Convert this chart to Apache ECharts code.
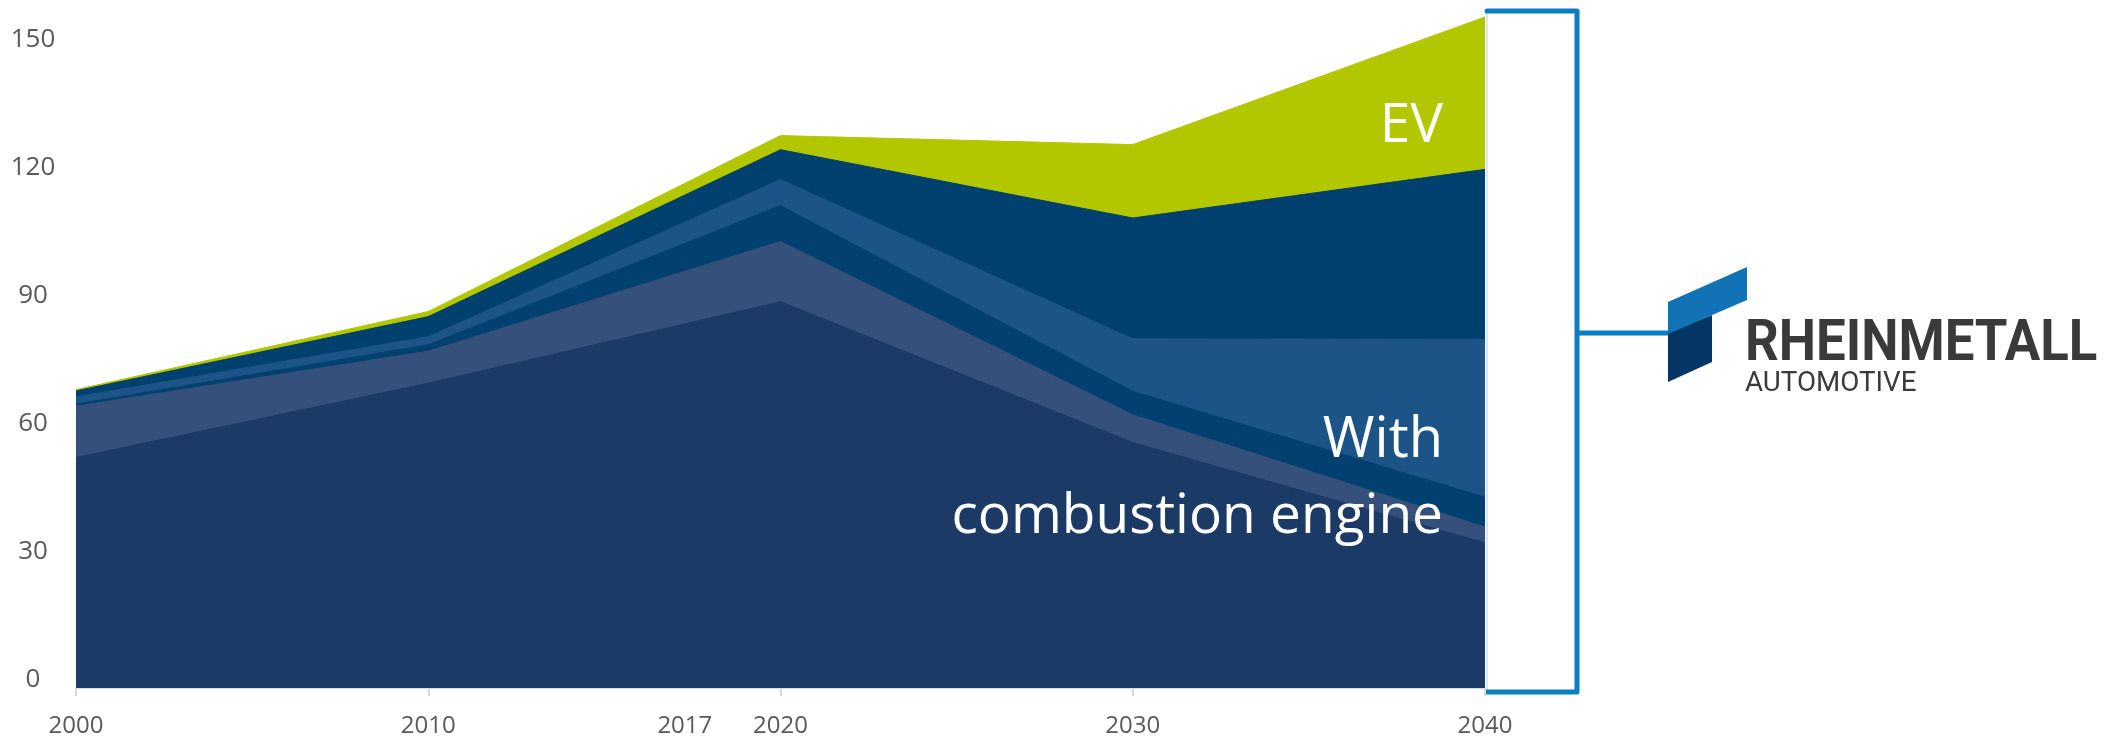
<!DOCTYPE html>
<html>
<head>
<meta charset="utf-8">
<title>Vehicle production by drivetrain</title>
<style>
    html, body { margin: 0; padding: 0; background: #fff; }
    #chart { width: 2107px; height: 736px; }
</style>
</head>
<body>
<div id="chart"></div>
<script src="https://cdn.jsdelivr.net/npm/echarts@6/dist/echarts.min.js"></script>
<script>
    // x positions of the data points, and the labels shown under the axis
    const years = [2000, 2010, 2020, 2030, 2040];
    const yearLabels = [2000, 2010, 2017, 2020, 2030, 2040];
    const yTicks = [0, 30, 60, 90, 120, 150];

    // stacked layers, from the bottom up
    const iceBase   = [54.0, 71.4, 90.5, 57.5, 34.0];
    const iceMid    = [12.0,  7.5, 14.1,  6.5,  3.7];
    const iceBand   = [ 0.5,  1.5,  8.4,  5.5,  7.0];
    const hybrid    = [ 1.7,  1.9,  6.1, 12.3, 37.0];
    const hybridTop = [ 1.4,  4.7,  7.0, 28.3, 39.8];
    const ev        = [ 0.3,  1.2,  3.3, 17.2, 35.7];

    const layers = [
        { name: 'ICE base', data: iceBase,   color: '#1c3a66' },
        { name: 'ICE mid',  data: iceMid,    color: '#36507c' },
        { name: 'ICE band', data: iceBand,   color: '#02406f' },
        { name: 'Hybrid',   data: hybrid,    color: '#1d5487' },
        { name: 'Hybrid+',  data: hybridTop, color: '#00406e' },
        { name: 'EV',       data: ev,        color: '#b3c700' }
    ];

    // running totals so each layer is drawn as an area down to zero,
    // the upper ones first so the lower ones sit on top of them
    let running = years.map(() => 0);
    const stacked = layers.map(l => {
        running = running.map((s, i) => s + l.data[i]);
        return { name: l.name, color: l.color, tops: running.slice() };
    }).reverse();

    const font = '"Open Sans", "DejaVu Sans", sans-serif';
    const blue = '#0b7dc3';

    let myChart = echarts.init(document.getElementById('chart'));

    let option = {
        animation: false,
        grid: { left: 76, right: 622, top: 5, bottom: 48, containLabel: false, outerBoundsMode: 'none' },
        xAxis: {
            type: 'value',
            min: 2000,
            max: 2040,
            interval: 10,
            splitLine: { show: false },
            axisLine: { show: true, lineStyle: { color: '#d9d9d9', width: 1 } },
            axisTick: {
                show: true,
                length: 8,
                customValues: [2000, 2010, 2020, 2030, 2040],
                lineStyle: { color: '#d9d9d9', width: 2 }
            },
            axisLabel: {
                customValues: yearLabels,
                margin: 26,
                color: '#595959',
                fontSize: 24,
                fontFamily: font,
                formatter: v => v === 2017 ? '{s|2017}' : String(v),
                rich: { s: { padding: [0, 0, 0, 20], color: '#595959', fontSize: 24, fontFamily: font } }
            }
        },
        yAxis: {
            type: 'value',
            min: 0,
            max: 160,
            interval: 30,
            splitLine: { show: false },
            axisLine: { show: false },
            axisTick: { show: false },
            axisLabel: {
                customValues: yTicks,
                align: 'center',
                verticalAlign: 'bottom',
                lineHeight: 16,
                margin: 43,
                color: '#595959',
                fontSize: 26,
                fontFamily: font
            }
        },
        series: stacked.map(l => ({
            name: l.name,
            type: 'line',
            symbol: 'none',
            lineStyle: { width: 1, color: l.color },
            areaStyle: { color: l.color, opacity: 1, origin: 'start' },
            data: years.map((y, i) => [y, +l.tops[i].toFixed(2)])
        })),
        graphic: [
            // thin edge at the right of the plot
            { type: 'line', shape: { x1: 1487, y1: 12, x2: 1487, y2: 690 },
              style: { stroke: '#d8e8f4', lineWidth: 2 } },
            // bracket
            { type: 'polyline', shape: { points: [[1487, 11], [1577, 11], [1577, 692], [1487, 692]] },
              style: { stroke: blue, lineWidth: 5, fill: null, lineCap: 'round', lineJoin: 'round' } },
            { type: 'line', shape: { x1: 1577, y1: 333, x2: 1668, y2: 333 },
              style: { stroke: blue, lineWidth: 5 } },
            // logo
            { type: 'polygon', shape: { points: [[1668, 333], [1712, 315], [1712, 362], [1668, 382]] },
              style: { fill: '#053564' } },
            { type: 'polygon', shape: { points: [[1668, 302], [1747, 267], [1747, 300], [1668, 334]] },
              style: { fill: '#1172b6' } },
            { type: 'text', x: 1745, y: 345, scaleX: 0.91,
              style: { text: 'RHEINMETALL', fill: '#3a3a3c', font: 'bold 58px Roboto, sans-serif',
                       align: 'left', verticalAlign: 'middle' } },
            { type: 'text', x: 1745, y: 384, scaleX: 0.99,
              style: { text: 'AUTOMOTIVE', fill: '#3a3a3c', font: '28px Roboto, sans-serif',
                       align: 'left', verticalAlign: 'middle' } },
            // area labels
            { type: 'text', x: 1443, y: 126, z: 100,
              style: { text: 'EV', fill: '#ffffff', font: '55px ' + font, align: 'right', verticalAlign: 'middle' } },
            { type: 'text', x: 1443, y: 441, z: 100,
              style: { text: 'With', fill: '#ffffff', font: '56px ' + font, align: 'right', verticalAlign: 'middle' } },
            { type: 'text', x: 1443, y: 517, z: 100,
              style: { text: 'combustion engine', fill: '#ffffff', font: '55px ' + font, align: 'right', verticalAlign: 'middle' } }
        ]
    };

    myChart.setOption(option);
</script>
</body>
</html>
